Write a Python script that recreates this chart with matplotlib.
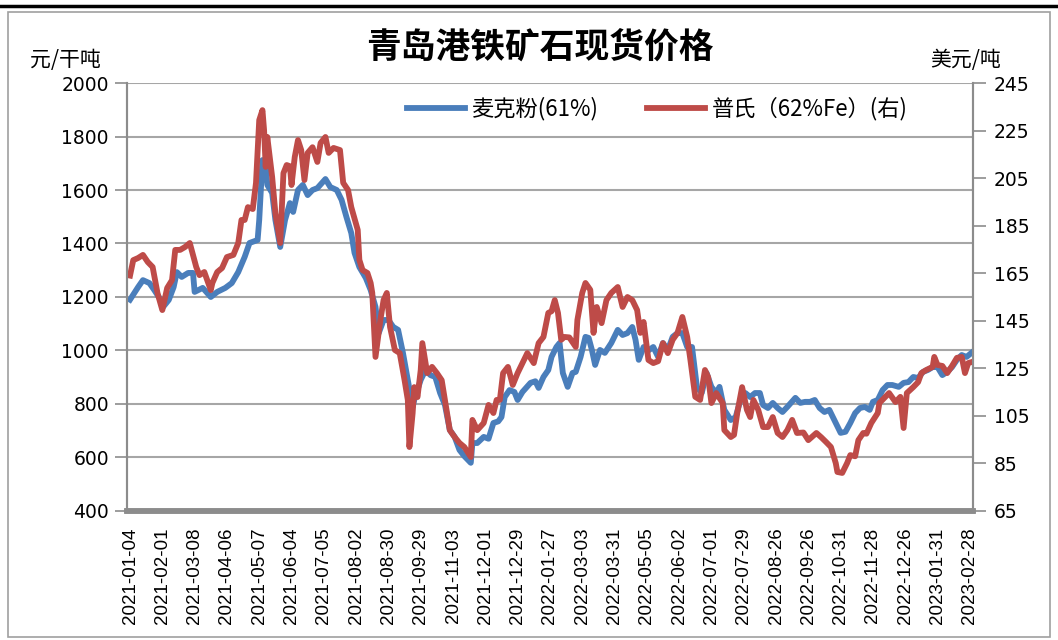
import matplotlib
matplotlib.use("Agg")
import matplotlib.pyplot as plt
from matplotlib.lines import Line2D
from matplotlib.patches import Rectangle

plt.rcParams['font.family'] = ['Noto Sans CJK SC', 'DejaVu Sans']

# x = trading-day index counted from 2021-01-04
tick_labels = ["2021-01-04", "2021-02-01", "2021-03-08", "2021-04-06", "2021-05-07",
               "2021-06-04", "2021-07-05", "2021-08-02", "2021-08-30", "2021-09-29",
               "2021-11-03", "2021-12-01", "2021-12-29", "2022-01-27", "2022-03-03",
               "2022-03-31", "2022-05-05", "2022-06-02", "2022-07-01", "2022-07-29",
               "2022-08-26", "2022-09-26", "2022-10-31", "2022-11-28", "2022-12-26",
               "2023-01-31", "2023-02-28"]

# 麦克粉(61%), 元/干吨
mac_idx = [0, 5, 8, 12, 15, 19, 20, 24, 27, 29, 32, 36, 39, 40, 45, 50, 54, 59, 63, 67,
           71, 74, 79, 80, 82, 84, 85, 88, 90, 93, 96, 99, 101, 104, 107, 110, 113, 116, 121, 124,
           128, 131, 134, 137, 139, 142, 146, 149, 152, 154, 157, 160, 163, 166, 169, 172, 175, 176, 180, 183,
           186, 189, 192, 195, 198, 201, 204, 207, 211, 212, 215, 219, 222, 225, 228, 230, 232, 235, 238, 240,
           243, 248, 251, 253, 256, 259, 261, 264, 266, 268, 271, 274, 276, 279, 282, 284, 286, 288, 291, 294,
           298, 302, 305, 308, 311, 313, 315, 318, 321, 324, 327, 330, 333, 336, 339, 342, 345, 348, 351, 354,
           357, 360, 363, 365, 368, 372, 375, 378, 381, 384, 387, 390, 392, 395, 398, 401, 404, 407, 412, 415,
           418, 421, 424, 427, 430, 433, 437, 440, 443, 446, 449, 452, 455, 458, 460, 463, 466, 469, 472, 476,
           479, 482, 485, 488, 491, 494, 497, 500, 503, 506, 509, 512, 515, 518, 521]
mac_val = [1190, 1237, 1263, 1252, 1226, 1189, 1159, 1189, 1237, 1293, 1275, 1290, 1290, 1219, 1234, 1200, 1219, 1234, 1252, 1293,
           1350, 1402, 1413, 1488, 1712, 1700, 1619, 1589, 1488, 1387, 1488, 1551, 1518, 1600, 1619, 1581, 1600, 1607, 1641, 1611,
           1600, 1563, 1499, 1439, 1365, 1312, 1271, 1226, 1163, 1065, 1114, 1114, 1088, 1077, 991, 890, 789, 815, 890, 927,
           908, 901, 841, 796, 703, 677, 628, 605, 580, 654, 654, 677, 670, 729, 735, 751, 826, 852, 845, 815,
           845, 879, 885, 860, 901, 927, 976, 1013, 1028, 916, 864, 916, 920, 976, 1051, 1047, 1002, 946, 1002, 991,
           1028, 1077, 1058, 1065, 1088, 1040, 965, 1013, 1000, 1013, 976, 1028, 1002, 1051, 1065, 1065, 1013, 1013, 864, 841,
           916, 864, 841, 864, 778, 740, 751, 815, 841, 826, 841, 841, 796, 785, 804, 785, 770, 789, 823, 804,
           808, 808, 815, 785, 770, 778, 729, 692, 696, 729, 766, 785, 789, 778, 808, 815, 852, 871, 871, 864,
           879, 882, 901, 897, 920, 927, 938, 938, 908, 920, 938, 965, 983, 976, 991]

# 普氏(62%Fe), 美元/吨 (right axis)
plt_idx = [0, 2, 5, 8, 11, 14, 17, 20, 23, 26, 28, 31, 34, 37, 39, 41, 43, 46, 50, 51,
           54, 57, 60, 64, 67, 69, 71, 73, 76, 78, 80, 82, 83, 84, 85, 88, 90, 93, 95, 97,
           99, 100, 102, 104, 106, 108, 110, 113, 116, 118, 121, 123, 126, 130, 132, 135, 137, 141, 142, 144,
           147, 149, 150, 152, 155, 157, 159, 161, 164, 167, 170, 172, 173, 175, 176, 178, 180, 181, 184, 187,
           190, 193, 195, 198, 201, 204, 207, 211, 212, 215, 219, 222, 225, 227, 229, 231, 234, 237, 240, 243,
           246, 250, 253, 256, 259, 261, 263, 265, 267, 269, 272, 276, 277, 280, 282, 285, 287, 289, 292, 295,
           298, 302, 305, 308, 311, 314, 316, 318, 321, 324, 327, 330, 333, 336, 339, 342, 345, 347, 350, 353,
           356, 358, 360, 363, 367, 368, 372, 374, 376, 379, 382, 384, 386, 389, 392, 395, 398, 401, 404, 407,
           410, 413, 417, 420, 422, 425, 428, 431, 434, 437, 438, 441, 444, 446, 449, 451, 454, 456, 459, 463,
           464, 467, 470, 474, 477, 479, 481, 485, 488, 490, 493, 497, 498, 500, 503, 506, 509, 512, 515, 517,
           519, 521]
plt_val = [164, 170.5, 171.4, 172.7, 169.7, 167.6, 156.7, 149.5, 158.8, 162.1, 174.8, 174.8, 176, 177.7, 172.7, 167.6, 164.2, 165.5, 157.9, 160.9,
           165.5, 167.2, 171.8, 172.7, 177.7, 187.4, 187.4, 192.8, 192, 203, 229.4, 233.6, 225.2, 209.7, 222.3, 205.5, 190.3, 177.7, 207.1, 210.5,
           210, 202.1, 213.9, 221, 216.8, 204.2, 215.6, 218, 211.8, 219.8, 222.3, 215.6, 217.7, 216.8, 203, 200, 192.8, 183.2, 170.6, 166.3,
           165.1, 160.9, 156.7, 129.8, 145.3, 153.7, 156.7, 142.4, 132.7, 131.4, 120, 111.7, 91.9, 106.2, 117.1, 112.9, 124.3, 135.6, 123, 125.6,
           123, 120, 111.7, 99, 96.1, 93.6, 91.9, 87.7, 103.3, 99, 102, 109.6, 106.2, 111.7, 111.7, 123, 125.6, 118, 123, 127.2,
           131.4, 127.2, 135.6, 138.2, 148.3, 149, 153.7, 148.3, 137, 138.2, 138, 134, 145.3, 156.7, 160.9, 158, 139.9, 150.8, 144, 153.7,
           156.7, 159.2, 150.8, 155, 153.7, 149.5, 139.9, 144.5, 128.5, 127.2, 128, 135.6, 131.4, 137, 139.9, 146.6, 138.2, 128.5, 113, 111.7,
           124.3, 121.3, 110.4, 114.6, 110.4, 99, 96.1, 97, 106.2, 117.1, 107.5, 104.5, 111.7, 107.5, 100.3, 100.3, 104.5, 97.8, 96.1, 99,
           103.3, 97.8, 98, 94.8, 96, 97.8, 96, 94, 91.9, 85.1, 81.4, 81, 85.1, 88.5, 88, 94.8, 97.8, 97.5, 102, 106.2,
           110.4, 112.5, 114.6, 110.8, 113, 99.9, 114.6, 117.1, 119.2, 123, 124.3, 125.6, 129.8, 126.4, 126, 123, 126, 129.4, 129.8, 123,
           127.2, 127.6]

blue = '#4a7ebb'
red = '#be4b48'
grid_c = '#a6a6a6'
axis_c = '#8c8c8c'

fig = plt.figure(figsize=(10.58, 6.4), dpi=100)
# outer frame of the screenshot
fig.add_artist(Line2D([0, 1], [0.991, 0.991], color='black', lw=2.5, transform=fig.transFigure))
fig.add_artist(Rectangle((0.008, 0.005), 0.984, 0.976, fill=False, ec='#a0a0a0', lw=1.2,
                         transform=fig.transFigure))

ax = fig.add_axes([0.120, 0.2016, 0.7997, 0.6687])
ax2 = ax.twinx()

ax.plot(mac_idx, mac_val, color=blue, lw=4.2, solid_joinstyle='round', label='麦克粉(61%)')
ax2.plot(plt_idx, plt_val, color=red, lw=4.2, solid_joinstyle='round', label='普氏（62%Fe）(右)')

ax.set_xlim(-1.9, 522)
ax.set_ylim(400, 2000)
ax2.set_ylim(65, 245)
ax.set_yticks(range(400, 2001, 200))
ax2.set_yticks(range(65, 246, 20))
ax.set_xticks(range(0, 521, 20))
ax.set_xticklabels(tick_labels, rotation=90, family='Liberation Sans', fontsize=13.5)
ax.tick_params(axis='x', length=0, pad=12)

ax.yaxis.grid(True, color=grid_c, lw=1.5)
ax.set_axisbelow(True)
for a in (ax, ax2):
    a.spines['top'].set_visible(False)
    a.spines['left'].set_color(axis_c)
    a.spines['right'].set_color(axis_c)
    a.spines['left'].set_linewidth(1.5)
    a.spines['right'].set_linewidth(1.5)
    a.spines['bottom'].set_color(axis_c)
    a.spines['bottom'].set_linewidth(4)
ax.tick_params(axis='y', length=9, width=1.2, color=axis_c, labelsize=13.5, pad=4)
ax2.tick_params(axis='y', length=9, width=1.2, color=axis_c, labelsize=13.5, pad=6)
for lab in ax.get_yticklabels() + ax2.get_yticklabels():
    lab.set_family('DejaVu Sans')

fig.text(0.510, 0.926, '青岛港铁矿石现货价格', ha='center', va='center', fontsize=25, fontweight='bold')
fig.text(0.062, 0.907, '元/干吨', ha='center', va='center', fontsize=15)
fig.text(0.913, 0.907, '美元/吨', ha='center', va='center', fontsize=15)

h1, l1 = ax.get_legend_handles_labels()
h2, l2 = ax2.get_legend_handles_labels()
ax2.legend(h1 + h2, l1 + l2, loc='center', bbox_to_anchor=(0.627, 0.94), ncol=2, frameon=False,
           fontsize=16, handlelength=2.6, columnspacing=2.2, handletextpad=0.3)

fig.savefig('out.png', dpi=100)
